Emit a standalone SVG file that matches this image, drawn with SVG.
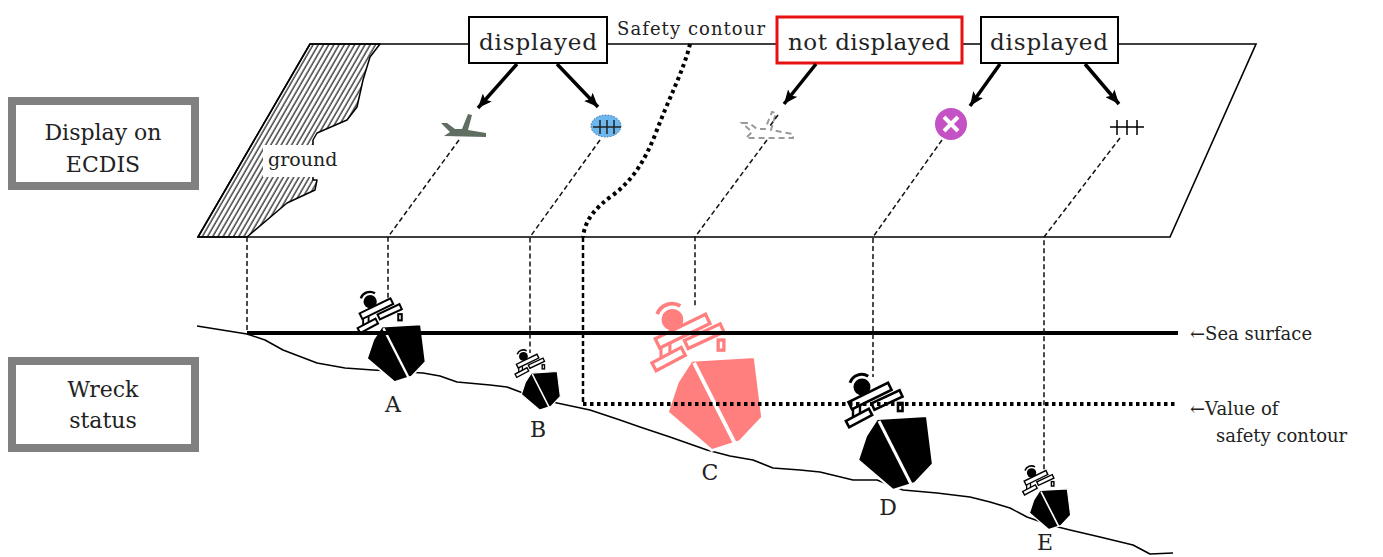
<svg xmlns="http://www.w3.org/2000/svg" width="1383" height="557" viewBox="0 0 1383 557">
<style>
text{font-family:"DejaVu Serif","Liberation Serif",serif;fill:#222}
.lbl{font-size:23px;text-anchor:middle}
.side{font-size:22px;text-anchor:middle}
.ltr{font-size:22px;text-anchor:middle}
.small{font-size:18px}
.dash{fill:none;stroke:#111;stroke-width:1.5;stroke-dasharray:5 3}
.arrow{fill:none;stroke:#000;stroke-width:3.5;marker-end:url(#ah)}
.dots{fill:none;stroke:#000;stroke-width:4;stroke-dasharray:3.5 3.5}
.gbox{fill:#fff;stroke:#808080;stroke-width:8}
.bbox{fill:#fff;stroke:#000;stroke-width:2}
.bar{fill:#fff;stroke:currentColor;stroke-width:2.6}
</style>
<defs>
<marker id="ah" viewBox="0 0 14 12" refX="14" refY="6" markerWidth="14" markerHeight="12" markerUnits="userSpaceOnUse" orient="auto">
<path d="M0,0 L14,6 L0,12 L3,6 Z" fill="#000"/>
</marker>
<pattern id="hatch" width="4.5" height="10" patternUnits="userSpaceOnUse" patternTransform="rotate(30)">
<line x1="1" y1="0" x2="1" y2="10" stroke="#000" stroke-width="1.1"/>
</pattern>
<g id="ship">
<path d="M-40,-57.3 A12.5,12.5 0 0 1 -21.8,-63.8" fill="none" stroke="currentColor" stroke-width="3"/>
<circle cx="-28" cy="-53" r="8.5" fill="currentColor"/>
<path d="M-13,-21 L37,-24 L43,24 L25,43 L3,50 L-32,20 L-24,-4 Z" fill="currentColor" stroke="#fff" stroke-width="2.2"/>
<line x1="-11" y1="-19" x2="21" y2="44" stroke="#fff" stroke-width="3"/>
<path d="M-37,-31 L-37,-15 M-30,-34 L-30,-20" stroke="currentColor" stroke-width="2.4" fill="none"/>
<rect x="-42" y="-48" width="44" height="8" transform="rotate(-26 -20 -44)" class="bar"/>
<rect x="-18.5" y="-43.5" width="31" height="7" transform="rotate(-25 -3 -40)" class="bar"/>
<rect x="8" y="-37" width="4.5" height="8" class="bar" stroke-width="2"/>
<rect x="-44" y="-25.5" width="26" height="7" transform="rotate(-28 -31 -22)" class="bar"/>
</g>
</defs>

<g id="scene">
<rect width="1383" height="557" fill="#fff"/>
<path id="seabed" d="M197,326 L247,334 L265,340 L283,350 L317,363 L345,368 L373,370 L423,373 L440,376 L457,382 L490,385 L507,387 L523,393 L557,403 L590,410 L620,420 L640,427 L670,437 L707,450 L730,456 L753,460 L773,468 L800,470 L820,472 L853,480 L877,480 L903,490 L937,493 L970,497 L990,502 L1010,508 L1027,517 L1050,525 L1070,530 L1100,537 L1133,545 L1150,554 L1173,553" fill="none" stroke="#000" stroke-width="1.5" stroke-linejoin="round"/>
</g>

<g id="ecdis-plane">
<path d="M310,44 L1256,44 L1170,237 L198,237 Z" fill="#fff" stroke="#000" stroke-width="1.6"/>
<path id="ground-area" d="M310,44 L380,44 L370,57 L363,80 L357,107 L347,120 L317,133 L313,140 L313,180 L317,180 L315,190 L287,203 L247,237 L198,237 Z" fill="url(#hatch)" stroke="#000" stroke-width="1.5" stroke-linejoin="round"/>
<rect x="263" y="145" width="86" height="32" fill="#fff"/>
<text x="268" y="166" font-size="19">ground</text>
</g>

<g id="label-display">
<rect x="12" y="101" width="183" height="85" class="gbox"/>
<text x="103" y="140" class="side">Display on</text>
<text x="103" y="172" class="side">ECDIS</text>
</g>
<g id="label-wreck">
<rect x="12" y="361" width="183" height="87" class="gbox"/>
<text x="103" y="397" class="side">Wreck</text>
<text x="103" y="428" class="side">status</text>
</g>

<g id="box-displayed-1">
<rect x="469" y="17" width="138" height="46" class="bbox"/>
<text x="538" y="50" class="lbl" textLength="118">displayed</text>
</g>
<g id="safety-contour-label">
<text x="617" y="35" class="small" textLength="148">Safety contour</text>
</g>
<g id="box-not-displayed">
<rect x="777" y="17" width="185" height="46" fill="#fff" stroke="#e81010" stroke-width="3"/>
<text x="869" y="50" class="lbl" textLength="162">not displayed</text>
</g>
<g id="box-displayed-2">
<rect x="981" y="17" width="137" height="46" class="bbox"/>
<text x="1049" y="50" class="lbl" textLength="118">displayed</text>
</g>

<g id="sym-A">
<path d="M441,123 L447,123 L455,129 L462,129 L468,114 L472,115 L468,130 L486,133 L486,137 L444,136 L450,132 Z" fill="#5f6e60"/>
</g>
<g id="sym-B">
<ellipse cx="606" cy="126" rx="15" ry="11" fill="#6cb8ee" stroke="#3a6a9a" stroke-width="1" stroke-dasharray="1.5 1.5"/>
<path d="M593,127 L621,127 M600,120 L600,134 M607,120 L607,134 M614,120 L614,134" stroke="#222" stroke-width="1.5"/>
</g>
<g id="sym-C">
<path d="M742,123 L749,123 L757,129 L765,129 L772,112 L776,113 L771,130 L793,134 L793,138 L746,138 L752,132 Z" fill="none" stroke="#9a9a9a" stroke-width="2" stroke-dasharray="6 4"/>
</g>
<g id="sym-D">
<circle cx="951" cy="124" r="16" fill="#c452c4"/>
<path d="M944,117 L958,131 M958,117 L944,131" stroke="#fff" stroke-width="4"/>
</g>
<g id="sym-E">
<path d="M1110,127 L1144,127 M1117,120 L1117,135 M1127,120 L1127,135 M1137,120 L1137,135" stroke="#000" stroke-width="1.5"/>
</g>

<g id="ship-A"><use href="#ship" transform="translate(392,343) scale(0.78)" color="#000"/></g>
<g id="ship-B"><use href="#ship" transform="translate(538,384) scale(0.52)" color="#000"/></g>
<g id="ship-C"><use href="#ship" transform="translate(708,387) scale(1.27)" color="#ff7f7f"/></g>
<g id="ship-D"><use href="#ship" transform="translate(890,440)" color="#000"/></g>
<g id="ship-E"><use href="#ship" transform="translate(1047,502) scale(0.55)" color="#000"/></g>

<g id="ship-labels">
<text x="393" y="412" class="ltr">A</text>
<text x="538" y="437" class="ltr">B</text>
<text x="710" y="480" class="ltr">C</text>
<text x="888" y="515" class="ltr">D</text>
<text x="1045" y="550" class="ltr">E</text>
</g>

<g id="connectors">
<line x1="247" y1="333" x2="1178" y2="333" stroke="#000" stroke-width="4"/>
<path d="M247,237 L247,333" class="dash"/>
<path d="M459,140 L388,237 L388,298" class="dash"/>
<path d="M600,140 L530,237 L530,353" class="dash"/>
<path d="M767,140 L695,237 L695,308" class="dash"/>
<path d="M778,115 L770,126" class="dash" stroke="#999"/>
<path d="M942,140 L873,237 L873,377" class="dash"/>
<path d="M1120,138 L1044,237 L1044,470" class="dash"/>
<path d="M690,44 C684,70 668,100 655,135 C645,160 633,180 613,195 C595,208 585,220 583,237" class="dots"/>
<path d="M583,237 L583,404" fill="none" stroke="#000" stroke-width="2.5" stroke-dasharray="5 3"/>
<path d="M583,404 L1178,404" class="dots"/>
<line x1="517" y1="64" x2="478" y2="108" class="arrow"/>
<line x1="557" y1="64" x2="598" y2="107" class="arrow"/>
<line x1="816" y1="64" x2="784" y2="104" class="arrow"/>
<line x1="1000" y1="64" x2="970" y2="106" class="arrow"/>
<line x1="1085" y1="64" x2="1119" y2="104" class="arrow"/>
</g>

<g id="right-labels">
<text x="1190" y="340" class="small" font-size="19">←Sea surface</text>
<text x="1190" y="415" class="small" font-size="19">←Value of</text>
<text x="1216" y="442" class="small" font-size="19">safety contour</text>
</g>
</svg>
